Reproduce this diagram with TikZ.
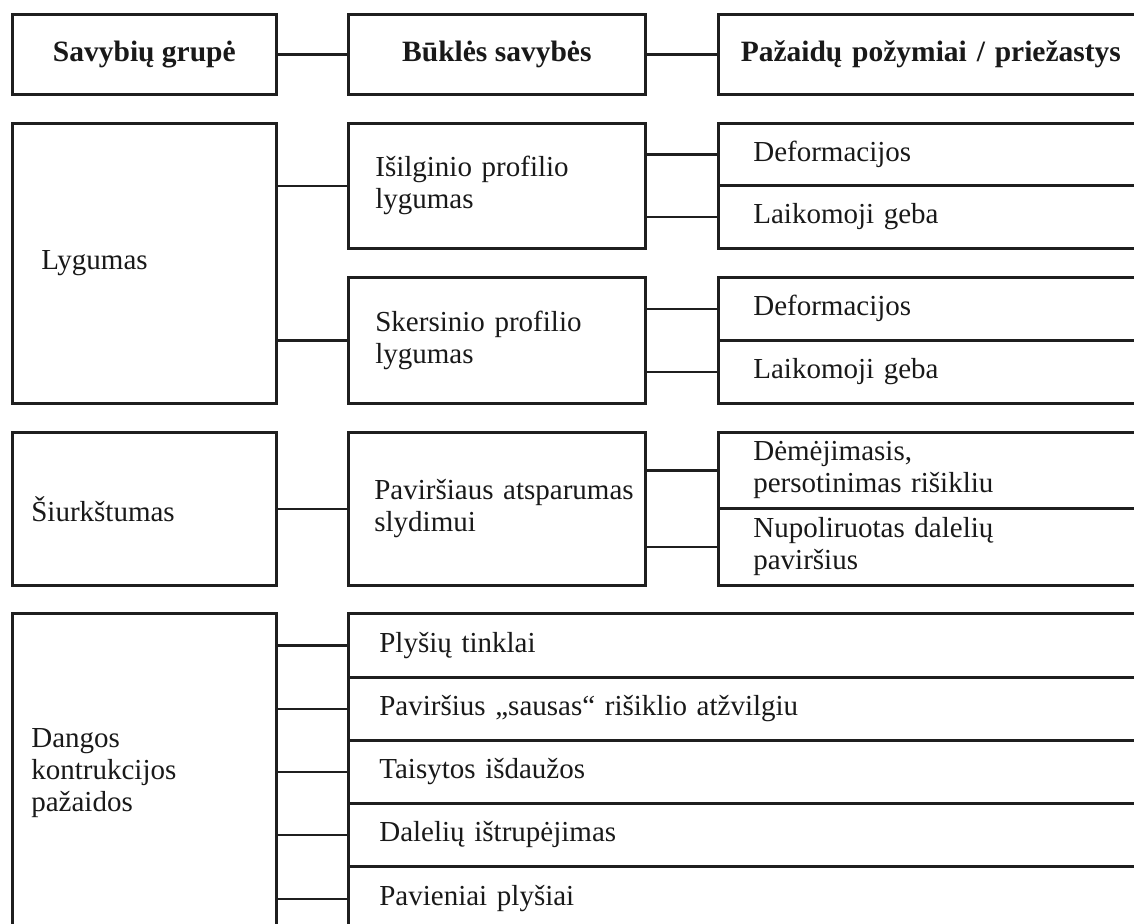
\documentclass[tikz,border=0pt]{standalone}
\usepackage{fontspec}
\setmainfont{Liberation Serif}
\begin{document}
\begin{tikzpicture}[x=1pt,y=1pt,
  every node/.style={font=\fontsize{29}{32}\selectfont, text=black!90},
  bx/.style={draw=black!88, line width=2.7pt, rectangle, anchor=north west, inner ysep=0pt, align=left},
  hd/.style={bx, align=center, font=\fontsize{29.5}{32}\selectfont\bfseries},
  lc/.style={bx, minimum width=264pt, inner xsep=19pt, text width=226pt},
  mc/.style={bx, minimum width=297pt, inner xsep=27pt, text width=243pt},
  rc/.style={bx, minimum width=425pt, inner xsep=35pt, text width=355pt},
  bc/.style={bx, minimum width=795pt, inner xsep=31pt, text width=733pt},
  ln/.style={draw=black!88, line width=2.7pt}]
\clip (0,0) rectangle (1134,-923);
\fill[white] (0,0) rectangle (1134,-923);

% header
\node[hd, minimum width=264pt, minimum height=80pt] (h1) at (11,-13) {Savybių grupė};
\node[hd, minimum width=297pt, minimum height=80pt] (h2) at (347,-13) {Būklės savybės};
\node[hd, minimum width=425pt, minimum height=80pt, text width=381pt] (h3) at (717,-13) {Pažaidų požymiai / priežastys};

% left column
\node[lc, minimum height=280pt, inner xsep=29pt, text width=206pt] (lyg) at (11,-122) {Lygumas};
\node[lc, minimum height=153pt] (siu) at (11,-431) {Šiurkštumas};
\node[lc, minimum height=320pt] (dang) at (11,-612) {Dangos\\kontrukcijos\\pažaidos};

% middle column
\node[mc, minimum height=125pt] (isil) at (347,-122) {Išilginio profilio\\lygumas};
\node[mc, minimum height=126pt] (sker) at (347,-276) {Skersinio profilio\\lygumas};
\node[mc, minimum height=153pt, inner xsep=26pt, text width=245pt] (pav) at (347,-431) {\mbox{Paviršiaus atsparumas}\\slydimui};

% right column
\node[rc, minimum height=62pt] (d1) at (717,-122) {Deformacijos};
\node[rc, minimum height=63pt] (l1) at (717,-184) {Laikomoji geba};
\node[rc, minimum height=63pt] (d2) at (717,-276) {Deformacijos};
\node[rc, minimum height=63pt] (l2) at (717,-339) {Laikomoji geba};
\node[rc, minimum height=76pt] (dem) at (717,-431) {Dėmėjimasis,\\persotinimas rišikliu};
\node[rc, minimum height=77pt] (nup) at (717,-507) {Nupoliruotas dalelių\\paviršius};

% bottom rows
\node[bc, minimum height=64pt] (r1) at (347,-612) {Plyšių tinklai};
\node[bc, minimum height=63pt] (r2) at (347,-676) {Paviršius „sausas“ rišiklio atžvilgiu};
\node[bc, minimum height=63pt] (r3) at (347,-739) {Taisytos išdaužos};
\node[bc, minimum height=63pt] (r4) at (347,-802) {Dalelių ištrupėjimas};
\node[bc, minimum height=65pt] (r5) at (347,-865) {Pavieniai plyšiai};

% connectors
\draw[ln] (h1) -- (h2);
\draw[ln] (h2) -- (h3);
\draw[ln] (lyg.east |- isil.west) -- (isil.west);
\draw[ln] (lyg.east |- sker.west) -- (sker.west);
\draw[ln] (siu) -- (pav);
\draw[ln] (isil.east |- d1.west) -- (d1.west);
\draw[ln] (isil.east |- l1.west) -- (l1.west);
\draw[ln] (sker.east |- d2.west) -- (d2.west);
\draw[ln] (sker.east |- l2.west) -- (l2.west);
\draw[ln] (pav.east |- dem.west) -- (dem.west);
\draw[ln] (pav.east |- nup.west) -- (nup.west);
\foreach \r in {r1,r2,r3,r4,r5}{
  \draw[ln] (dang.east |- \r.west) -- (\r.west);
}
\end{tikzpicture}
\end{document}
